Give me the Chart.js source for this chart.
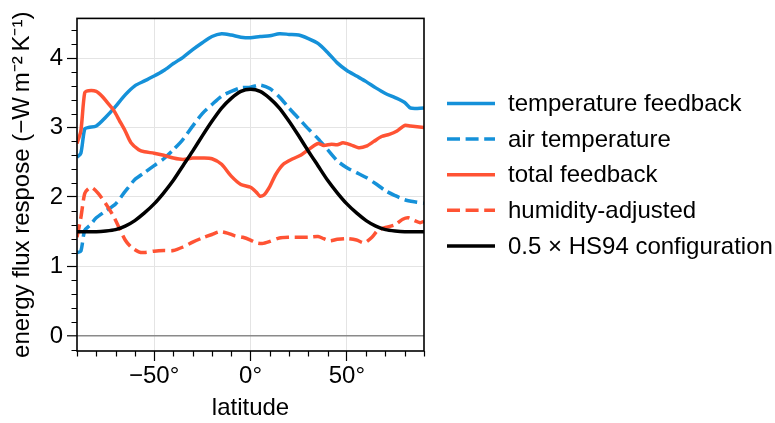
<!DOCTYPE html>
<html>
<head>
<meta charset="utf-8">
<script src="https://cdn.jsdelivr.net/npm/chart.js@4.4.1/dist/chart.umd.min.js"></script>
<style>
  html, body { margin: 0; padding: 0; background: #fff; }
  #wrap { width: 775px; height: 423px; }
</style>
</head>
<body>
<div id="wrap"><canvas id="chart" width="775" height="423"></canvas></div>
<script>
// latitude / value pairs
const tempFbLat = [-90, -88, -86, -84, -80, -75, -71, -65, -60, -55, -50, -45, -40, -35, -30, -25, -20, -15, -10, -5, 0, 5, 10, 15, 20, 25, 30, 35, 40, 45, 50, 55, 60, 65, 70, 75, 80, 83, 90];
const tempFbVal = [2.57, 2.63, 2.98, 3.0, 3.02, 3.15, 3.27, 3.47, 3.6, 3.67, 3.74, 3.82, 3.92, 4.01, 4.12, 4.22, 4.31, 4.35, 4.33, 4.3, 4.29, 4.31, 4.32, 4.35, 4.34, 4.33, 4.28, 4.21, 4.08, 3.93, 3.82, 3.74, 3.66, 3.57, 3.49, 3.43, 3.36, 3.28, 3.28];

const airTempLat = [-90, -88, -86, -83, -80, -75, -70, -65, -60, -55, -50, -45, -40, -35, -30, -25, -20, -15, -10, -5, 0, 5, 10, 15, 20, 25, 30, 35, 40, 45, 50, 55, 60, 65, 70, 75, 80, 85, 90];
const airTempVal = [1.2, 1.22, 1.52, 1.6, 1.7, 1.8, 1.9, 2.08, 2.25, 2.35, 2.45, 2.55, 2.68, 2.83, 3.02, 3.2, 3.33, 3.45, 3.52, 3.57, 3.58, 3.61, 3.56, 3.44, 3.28, 3.13, 2.98, 2.84, 2.68, 2.52, 2.42, 2.35, 2.28, 2.19, 2.09, 2.02, 1.96, 1.93, 1.91];

const totalFbLat = [-90, -88, -86, -84, -80, -77, -74, -71, -68, -65, -62, -58, -55, -50, -45, -40, -35, -30, -25, -20, -15, -10, -5, 0, 3, 5, 7, 10, 13, 17, 22, 26, 30, 35, 38, 42, 45, 48, 52, 56, 60, 64, 68, 72, 76, 80, 83, 90];
const totalFbVal = [2.77, 2.95, 3.5, 3.53, 3.52, 3.45, 3.35, 3.25, 3.1, 2.95, 2.78, 2.68, 2.65, 2.63, 2.6, 2.56, 2.54, 2.56, 2.56, 2.55, 2.47, 2.3, 2.18, 2.14, 2.07, 2.01, 2.03, 2.15, 2.32, 2.47, 2.55, 2.6, 2.68, 2.77, 2.74, 2.76, 2.75, 2.78, 2.75, 2.71, 2.73, 2.8, 2.87, 2.9, 2.95, 3.03, 3.02, 3.0];

const humidLat = [-90, -88, -86, -84, -82, -79, -75, -71, -68, -65, -62, -58, -55, -50, -45, -40, -35, -30, -25, -20, -16, -12, -8, -4, 0, 3, 6, 10, 15, 20, 25, 30, 35, 38, 41, 45, 50, 55, 59, 63, 66, 70, 75, 79, 82, 85, 88, 90];
const humidVal = [1.42, 1.7, 2.05, 2.12, 2.13, 2.05, 1.9, 1.72, 1.55, 1.38, 1.28, 1.21, 1.2, 1.22, 1.23, 1.23, 1.28, 1.35, 1.41, 1.46, 1.5, 1.48, 1.44, 1.42, 1.38, 1.34, 1.33, 1.36, 1.41, 1.42, 1.42, 1.42, 1.43, 1.4, 1.37, 1.39, 1.4, 1.38, 1.34, 1.42, 1.52, 1.56, 1.6, 1.68, 1.7, 1.66, 1.63, 1.65];

const hs94Lat = [-90, -80, -75, -70, -65, -60, -55, -50, -45, -40, -35, -30, -25, -20, -15, -10, -5, 0, 5, 10, 15, 20, 25, 30, 35, 40, 45, 50, 55, 60, 65, 70, 75, 80, 90];
const hs94Val = [1.5, 1.5, 1.51, 1.53, 1.58, 1.66, 1.77, 1.9, 2.06, 2.24, 2.45, 2.66, 2.88, 3.09, 3.28, 3.42, 3.52, 3.55, 3.52, 3.42, 3.28, 3.09, 2.88, 2.66, 2.45, 2.24, 2.06, 1.9, 1.77, 1.66, 1.58, 1.53, 1.51, 1.5, 1.5];

const seriesNames = ['temperature feedback', 'air temperature', 'total feedback', 'humidity-adjusted', '0.5 \u00d7 HS94 configuration'];

const BLUE = '#1591d9';
const RED = '#ff5334';
const DASH = [13, 5.6];
const FONT = "'Liberation Sans', Arial, Helvetica, sans-serif";

Chart.defaults.font.family = FONT;
Chart.defaults.font.size = 24;
Chart.defaults.color = '#000';

const pts = (lat, val) => lat.map((x, i) => ({ x: x, y: val[i] }));
const isMajorY = v => Math.abs(v - Math.round(v)) < 1e-6;
const isMajorX = v => Math.abs(v / 50 - Math.round(v / 50)) < 1e-6;

// minor ticks + box around the axes
const frame = {
  id: 'frame',
  afterDatasetsDraw(chart) {
    const { ctx, chartArea: a, scales: { x, y } } = chart;
    ctx.save();
    ctx.strokeStyle = '#000';
    ctx.lineWidth = 1.2;
    ctx.beginPath();
    x.ticks.forEach(t => {
      if (isMajorX(t.value)) return;
      const px = Math.round(x.getPixelForValue(t.value)) + 0.5;
      ctx.moveTo(px, a.bottom);
      ctx.lineTo(px, a.bottom + 5.5);
    });
    y.ticks.forEach(t => {
      if (isMajorY(t.value)) return;
      const py = Math.round(y.getPixelForValue(t.value)) + 0.5;
      ctx.moveTo(a.left, py);
      ctx.lineTo(a.left - 5.5, py);
    });
    ctx.stroke();
    ctx.lineWidth = 1.6;
    ctx.strokeRect(a.left, a.top, a.right - a.left, a.bottom - a.top);
    ctx.restore();
  }
};

// legend on the right, built from the datasets
const sideLegend = {
  id: 'sideLegend',
  afterDraw(chart) {
    const ctx = chart.ctx;
    ctx.save();
    ctx.font = '24px ' + FONT;
    ctx.textBaseline = 'middle';
    ctx.fillStyle = '#000';
    chart.data.datasets.forEach((ds, i) => {
      const yy = 103.5 + i * 35.6;
      ctx.strokeStyle = ds.borderColor;
      ctx.lineWidth = ds.borderWidth;
      ctx.setLineDash(ds.borderDash || []);
      ctx.beginPath();
      ctx.moveTo(447, yy);
      ctx.lineTo(495, yy);
      ctx.stroke();
      ctx.setLineDash([]);
      ctx.fillText(ds.label, 508, yy + 1);
    });
    ctx.restore();
  }
};

const line = (label, data, color, dash, order) => ({
  label: label,
  data: data,
  borderColor: color,
  backgroundColor: color,
  borderWidth: 3.5,
  borderDash: dash,
  pointRadius: 0,
  tension: 0.25,
  fill: false,
  order: order
});

new Chart(document.getElementById('chart'), {
  type: 'line',
  data: {
    datasets: [
      line(seriesNames[0], pts(tempFbLat, tempFbVal), BLUE, [], 5),
      line(seriesNames[1], pts(airTempLat, airTempVal), BLUE, DASH, 4),
      line(seriesNames[2], pts(totalFbLat, totalFbVal), RED, [], 3),
      line(seriesNames[3], pts(humidLat, humidVal), RED, DASH, 2),
      line(seriesNames[4], pts(hs94Lat, hs94Val), '#000', [], 1)
    ]
  },
  options: {
    responsive: false,
    animation: false,
    layout: { padding: { top: 5, right: 351, bottom: 0, left: 0 } },
    plugins: { legend: { display: false }, tooltip: { enabled: false } },
    scales: {
      x: {
        type: 'linear',
        min: -90,
        max: 90,
        afterFit: s => { s.height = 72; },
        border: { display: false },
        grid: {
          color: c => isMajorX(c.tick.value) ? '#e4e4e4' : 'rgba(0,0,0,0)',
          tickColor: c => isMajorX(c.tick.value) ? '#000' : 'rgba(0,0,0,0)',
          tickLength: 10,
          tickWidth: 1.2
        },
        ticks: {
          stepSize: 10,
          autoSkip: false,
          maxRotation: 0,
          includeBounds: false,
          padding: 1,
          callback: v => isMajorX(v) ? (v < 0 ? '\u2212' + Math.abs(v) : v) + '\u00b0' : ''
        },
        title: { display: true, text: 'latitude', font: { size: 24 }, padding: { top: 0, bottom: 0 } }
      },
      y: {
        min: -0.217,
        max: 4.57,
        afterFit: s => { s.width = 77; },
        border: { display: false },
        grid: {
          color: c => Math.abs(c.tick.value) < 1e-6 ? '#8a8a8a' : (isMajorY(c.tick.value) ? '#e4e4e4' : 'rgba(0,0,0,0)'),
          lineWidth: c => Math.abs(c.tick.value) < 1e-6 ? 1.6 : 1,
          tickColor: c => isMajorY(c.tick.value) ? '#000' : 'rgba(0,0,0,0)',
          tickLength: 10,
          tickWidth: 1.2
        },
        ticks: {
          stepSize: 0.2,
          autoSkip: false,
          includeBounds: false,
          padding: 4,
          callback: v => isMajorY(v) ? String(Math.round(v)) : ''
        },
        title: {
          display: true,
          text: 'energy flux respose (\u2212W\u2009m\u207b\u00b2\u2009K\u207b\u00b9)',
          font: { size: 24 },
          padding: { top: 8, bottom: 0 }
        }
      }
    }
  },
  plugins: [frame, sideLegend]
});
</script>
</body>
</html>
